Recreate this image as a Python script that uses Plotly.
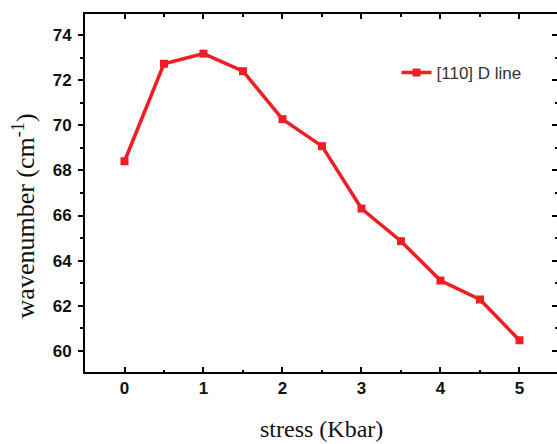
import plotly.graph_objects as go

stress = [0, 0.5, 1, 1.5, 2, 2.5, 3, 3.5, 4, 4.5, 5]
wavenumber = [68.41, 72.74, 73.19, 72.41, 70.28, 69.08, 66.31, 64.86, 63.11, 62.27, 60.46]
x_ticks = [0, 1, 2, 3, 4, 5]
y_ticks = [60, 62, 64, 66, 68, 70, 72, 74]
series_name = "[110] D line"

red = "rgb(238,30,36)"
fig = go.Figure()
fig.add_trace(go.Scatter(
    x=stress, y=wavenumber, mode="lines+markers", name=series_name,
    line=dict(color=red, width=3.5),
    marker=dict(symbol="square", size=8, color=red),
))
fig.add_trace(go.Scatter(x=[stress[0]], y=[wavenumber[0]], yaxis="y2",
                         mode="markers", marker=dict(opacity=0), showlegend=False,
                         hoverinfo="skip"))

tickfont = dict(family="Liberation Sans, Arial", size=17, color="#111", weight="bold")
fig.update_layout(
    width=557, height=444,
    margin=dict(l=85, r=0, t=14, b=72),
    paper_bgcolor="white", plot_bgcolor="white",
    showlegend=True,
    legend=dict(x=0.66, y=0.835, xanchor="left", yanchor="middle",
                bgcolor="rgba(0,0,0,0)",
                font=dict(family="Liberation Sans, Arial", size=17, color="#333")),
    xaxis=dict(range=[-0.5, 5.475], tickvals=x_ticks, ticks="inside", ticklen=5,
               tickwidth=1.5, tickcolor="black",
               showline=True, linewidth=2, linecolor="black", mirror="ticks",
               showgrid=False, zeroline=False, tickfont=tickfont,
               minor=dict(dtick=0.5, tick0=0, ticks="inside", ticklen=2.5,
                          tickwidth=1.5, tickcolor="black", showgrid=False)),
    yaxis=dict(range=[59.05, 74.95], tickvals=y_ticks, ticks="outside", ticklen=5,
               tickwidth=1.5, tickcolor="black",
               showline=True, linewidth=2, linecolor="black",
               showgrid=False, zeroline=False, tickfont=tickfont,
               ticklabelstandoff=3,
               minor=dict(dtick=1, tick0=59, ticks="outside", ticklen=3,
                          tickwidth=1.5, tickcolor="black", showgrid=False)),
    yaxis2=dict(range=[59.05, 74.95], overlaying="y", side="right",
                tickvals=y_ticks, ticks="inside", ticklen=5, tickwidth=1.5,
                tickcolor="black", showline=False, showgrid=False,
                zeroline=False, showticklabels=False,
                minor=dict(dtick=1, tick0=59, ticks="inside", ticklen=2,
                           tickwidth=1.5, tickcolor="black", showgrid=False)),
    annotations=[
        dict(text="wavenumber (cm<sup>-1</sup>)", xref="paper", yref="paper",
             x=-0.089, y=0.436, xanchor="right", yanchor="middle", textangle=-90,
             showarrow=False,
             font=dict(family="Liberation Serif, Times New Roman", size=26, color="#111")),
        dict(text="stress (Kbar)", xref="paper", yref="paper",
             x=0.5, y=-0.16, xanchor="center", yanchor="middle",
             showarrow=False,
             font=dict(family="Liberation Serif, Times New Roman", size=24, color="#111")),
    ],
)
fig.write_html("out.html", config={"displayModeBar": False},
               post_script="document.body.style.margin='0px';document.body.style.overflow='hidden';")
